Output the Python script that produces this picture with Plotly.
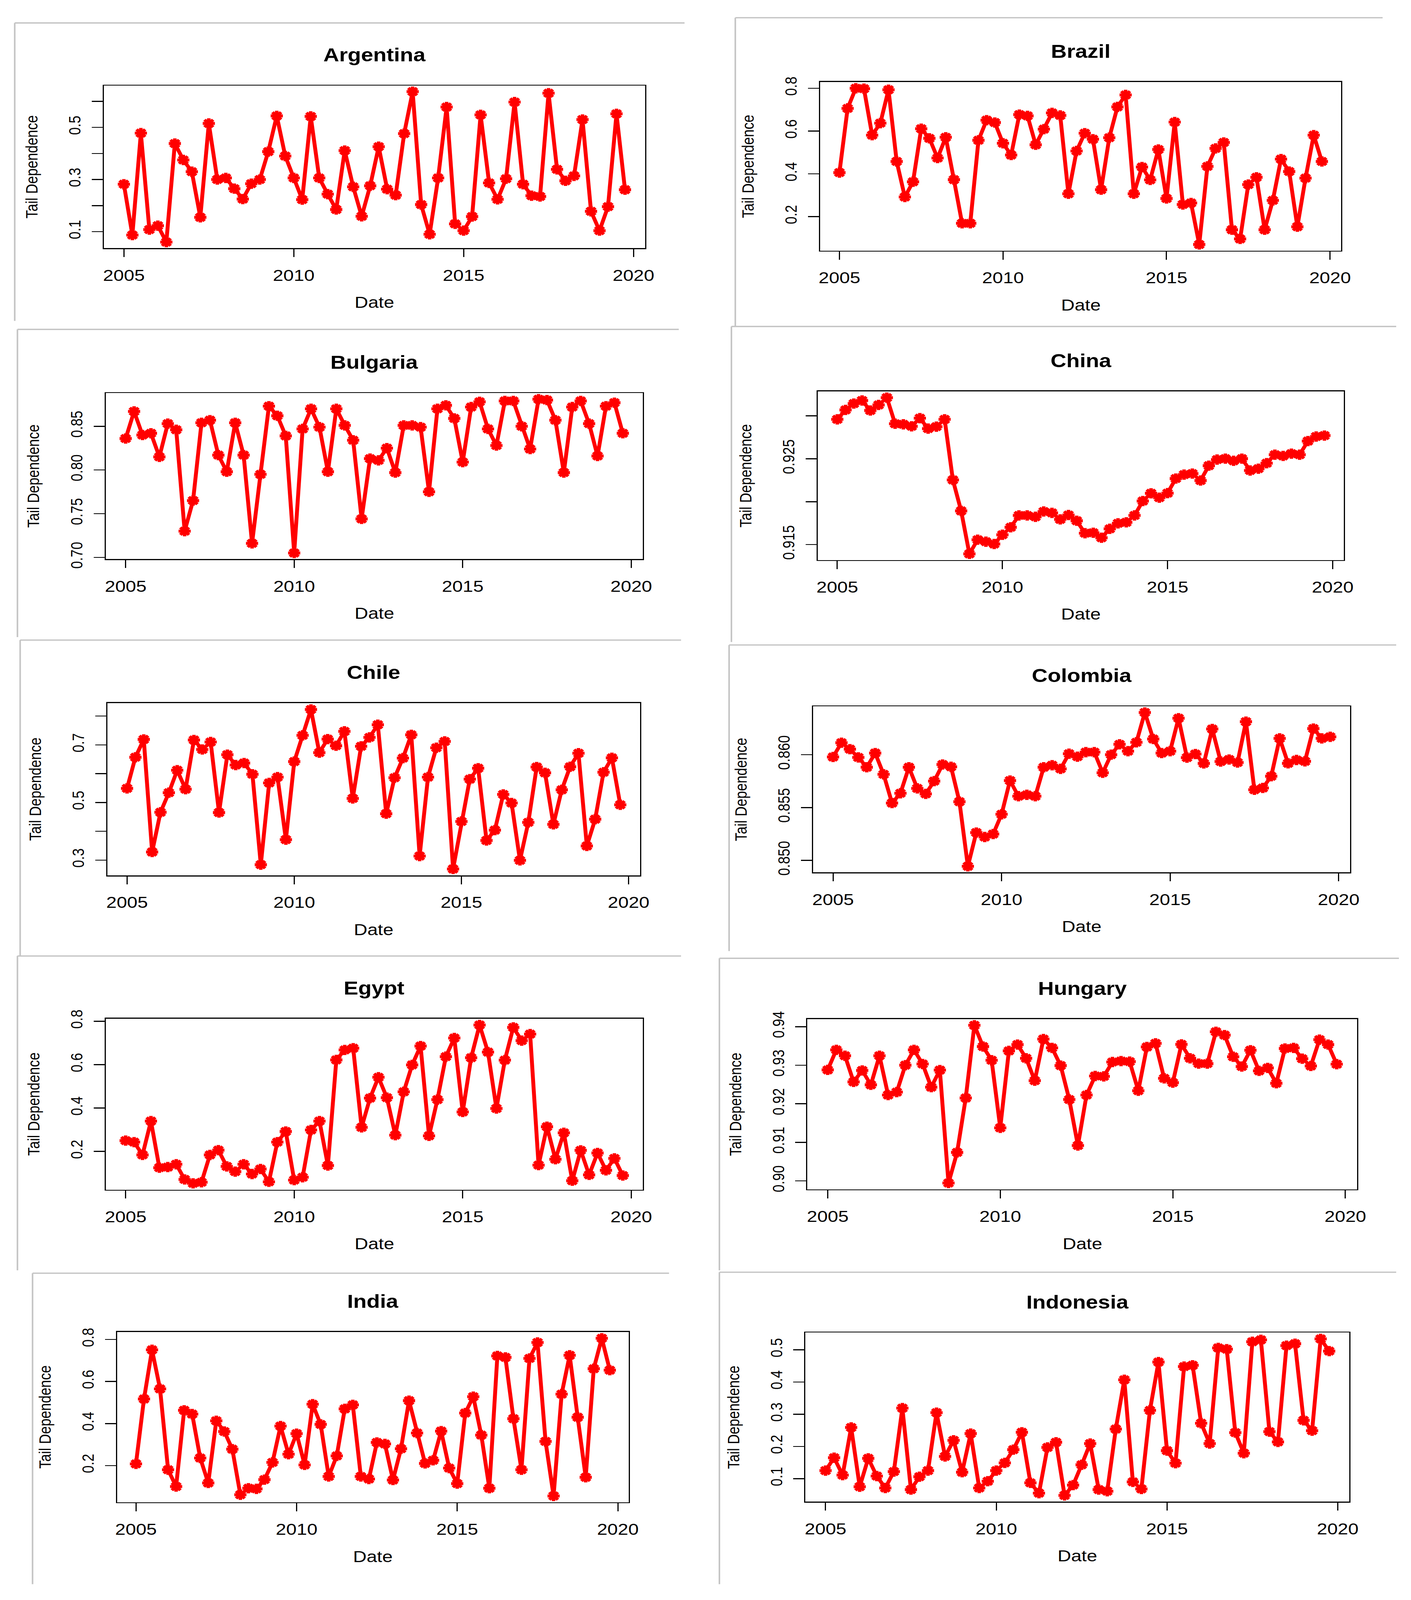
import plotly.graph_objects as go

# Quarterly observations, 2005 Q1 .. 2019 Q4
quarters = [2005 + q / 4 for q in range(60)]

countries = ["Argentina", "Brazil", "Bulgaria", "China", "Chile",
             "Colombia", "Egypt", "Hungary", "India", "Indonesia"]

argentina = [0.282, 0.087, 0.478, 0.108, 0.123, 0.060, 0.438, 0.375, 0.330, 0.155,
             0.515, 0.300, 0.306, 0.265, 0.225, 0.284, 0.300, 0.407, 0.544, 0.390,
             0.306, 0.223, 0.542, 0.306, 0.244, 0.185, 0.411, 0.272, 0.159, 0.276,
             0.426, 0.263, 0.240, 0.476, 0.637, 0.204, 0.090, 0.306, 0.578, 0.130,
             0.104, 0.158, 0.548, 0.287, 0.224, 0.303, 0.597, 0.282, 0.238, 0.235,
             0.631, 0.339, 0.295, 0.314, 0.530, 0.178, 0.104, 0.196, 0.552, 0.261]
brazil = [0.406, 0.706, 0.800, 0.798, 0.581, 0.637, 0.793, 0.458, 0.292, 0.363,
          0.611, 0.566, 0.474, 0.571, 0.373, 0.169, 0.169, 0.557, 0.651, 0.640,
          0.543, 0.488, 0.677, 0.671, 0.536, 0.609, 0.685, 0.673, 0.307, 0.507,
          0.590, 0.562, 0.326, 0.569, 0.713, 0.769, 0.307, 0.432, 0.372, 0.514,
          0.285, 0.642, 0.257, 0.264, 0.070, 0.435, 0.519, 0.547, 0.139, 0.096,
          0.350, 0.384, 0.139, 0.276, 0.469, 0.411, 0.153, 0.380, 0.581, 0.458]
bulgaria = [0.836, 0.867, 0.840, 0.842, 0.815, 0.853, 0.846, 0.730, 0.765, 0.854,
            0.857, 0.817, 0.798, 0.854, 0.817, 0.716, 0.795, 0.873, 0.862, 0.839,
            0.705, 0.847, 0.870, 0.849, 0.798, 0.870, 0.851, 0.834, 0.744, 0.813,
            0.811, 0.825, 0.797, 0.851, 0.851, 0.849, 0.775, 0.870, 0.874, 0.859,
            0.809, 0.872, 0.878, 0.847, 0.828, 0.879, 0.879, 0.850, 0.824, 0.881,
            0.880, 0.857, 0.797, 0.872, 0.879, 0.853, 0.816, 0.873, 0.877, 0.842]
china = [0.92960, 0.93070, 0.93144, 0.93180, 0.93063, 0.93128, 0.93213, 0.92909,
         0.92902, 0.92879, 0.92974, 0.92852, 0.92875, 0.92960, 0.92254, 0.91893,
         0.91392, 0.91557, 0.91534, 0.91507, 0.91615, 0.91702, 0.91840, 0.91840,
         0.91824, 0.91886, 0.91870, 0.91794, 0.91845, 0.91778, 0.91633, 0.91638,
         0.91580, 0.91684, 0.91748, 0.91760, 0.91840, 0.92008, 0.92098, 0.92047,
         0.92100, 0.92270, 0.92316, 0.92328, 0.92247, 0.92420, 0.92491, 0.92502,
         0.92477, 0.92502, 0.92364, 0.92385, 0.92449, 0.92548, 0.92534, 0.92560,
         0.92548, 0.92707, 0.92760, 0.92771]
chile = [0.549, 0.657, 0.719, 0.328, 0.466, 0.534, 0.612, 0.546, 0.717, 0.684,
         0.710, 0.465, 0.666, 0.630, 0.637, 0.598, 0.284, 0.568, 0.588, 0.371,
         0.642, 0.733, 0.823, 0.673, 0.720, 0.697, 0.747, 0.514, 0.695, 0.726,
         0.770, 0.461, 0.586, 0.654, 0.735, 0.314, 0.588, 0.690, 0.712, 0.269,
         0.434, 0.581, 0.619, 0.368, 0.404, 0.528, 0.498, 0.299, 0.431, 0.623,
         0.603, 0.424, 0.544, 0.624, 0.671, 0.349, 0.442, 0.605, 0.655, 0.492]
colombia = [0.85978, 0.86113, 0.86052, 0.85974, 0.85881, 0.86015, 0.85814, 0.85542,
            0.85635, 0.85881, 0.85681, 0.85629, 0.85750, 0.85907, 0.85885, 0.85555,
            0.84944, 0.85263, 0.85221, 0.85249, 0.85436, 0.85755, 0.85607, 0.85620,
            0.85607, 0.85881, 0.85900, 0.85866, 0.86009, 0.85981, 0.86024, 0.86024,
            0.85829, 0.86000, 0.86098, 0.86033, 0.86117, 0.86399, 0.86148, 0.86015,
            0.86033, 0.86345, 0.85972, 0.86006, 0.85917, 0.86243, 0.85935, 0.85954,
            0.85926, 0.86312, 0.85668, 0.85685, 0.85796, 0.86154, 0.85918, 0.85950,
            0.85937, 0.86247, 0.86154, 0.86169]
egypt = [0.250, 0.243, 0.184, 0.340, 0.125, 0.128, 0.141, 0.071, 0.053, 0.058,
         0.184, 0.206, 0.131, 0.107, 0.141, 0.096, 0.119, 0.060, 0.243, 0.292,
         0.068, 0.081, 0.299, 0.340, 0.135, 0.622, 0.668, 0.676, 0.311, 0.446,
         0.542, 0.448, 0.275, 0.475, 0.599, 0.686, 0.272, 0.439, 0.637, 0.723,
         0.382, 0.632, 0.783, 0.658, 0.398, 0.621, 0.772, 0.711, 0.741, 0.137,
         0.314, 0.164, 0.286, 0.065, 0.205, 0.092, 0.193, 0.113, 0.168, 0.089]
hungary = [0.92879, 0.93399, 0.93246, 0.92568, 0.92864, 0.92492, 0.93246, 0.92227,
           0.92303, 0.93001, 0.93399, 0.93032, 0.92431, 0.92874, 0.89944, 0.90739,
           0.92150, 0.94036, 0.93485, 0.93129, 0.91376, 0.93373, 0.93536, 0.93180,
           0.92599, 0.93679, 0.93450, 0.92991, 0.92110, 0.90917, 0.92227, 0.92721,
           0.92711, 0.93083, 0.93108, 0.93093, 0.92339, 0.93475, 0.93567, 0.92660,
           0.92548, 0.93541, 0.93180, 0.93042, 0.93042, 0.93868, 0.93781, 0.93220,
           0.92966, 0.93389, 0.92854, 0.92930, 0.92532, 0.93434, 0.93450, 0.93169,
           0.92981, 0.93664, 0.93536, 0.93027]
india = [0.208, 0.517, 0.751, 0.565, 0.180, 0.100, 0.463, 0.445, 0.236, 0.117,
         0.413, 0.362, 0.278, 0.061, 0.092, 0.089, 0.133, 0.215, 0.388, 0.254,
         0.352, 0.203, 0.492, 0.396, 0.148, 0.246, 0.470, 0.489, 0.148, 0.136,
         0.310, 0.303, 0.131, 0.280, 0.509, 0.355, 0.210, 0.225, 0.364, 0.188,
         0.114, 0.450, 0.528, 0.345, 0.092, 0.722, 0.715, 0.423, 0.180, 0.710,
         0.786, 0.315, 0.055, 0.540, 0.725, 0.430, 0.144, 0.661, 0.806, 0.654]
indonesia = [0.125, 0.165, 0.111, 0.259, 0.075, 0.163, 0.108, 0.071, 0.122, 0.319,
             0.066, 0.106, 0.125, 0.305, 0.169, 0.219, 0.120, 0.240, 0.071, 0.092,
             0.125, 0.149, 0.190, 0.244, 0.087, 0.055, 0.197, 0.213, 0.048, 0.080,
             0.143, 0.209, 0.066, 0.061, 0.254, 0.407, 0.090, 0.068, 0.312, 0.462,
             0.187, 0.148, 0.448, 0.452, 0.272, 0.209, 0.506, 0.502, 0.243, 0.179,
             0.525, 0.531, 0.246, 0.214, 0.513, 0.519, 0.281, 0.249, 0.534, 0.496]

series = [argentina, brazil, bulgaria, china, chile,
          colombia, egypt, hungary, india, indonesia]

# y tick positions and the labels R kept (blank = label dropped for overlap)
ytick_vals = [
    [0.1, 0.2, 0.3, 0.4, 0.5, 0.6],
    [0.2, 0.4, 0.6, 0.8],
    [0.70, 0.75, 0.80, 0.85],
    [0.915, 0.920, 0.925, 0.930],
    [0.3, 0.4, 0.5, 0.6, 0.7, 0.8],
    [0.850, 0.855, 0.860],
    [0.2, 0.4, 0.6, 0.8],
    [0.90, 0.91, 0.92, 0.93, 0.94],
    [0.2, 0.4, 0.6, 0.8],
    [0.1, 0.2, 0.3, 0.4, 0.5],
]
ytick_text = [
    ["0.1", "", "0.3", "", "0.5", ""],
    ["0.2", "0.4", "0.6", "0.8"],
    ["0.70", "0.75", "0.80", "0.85"],
    ["0.915", "", "0.925", ""],
    ["0.3", "", "0.5", "", "0.7", ""],
    ["0.850", "0.855", "0.860"],
    ["0.2", "0.4", "0.6", "0.8"],
    ["0.90", "0.91", "0.92", "0.93", "0.94"],
    ["0.2", "0.4", "0.6", "0.8"],
    ["0.1", "0.2", "0.3", "0.4", "0.5"],
]
xtick_vals = [2005, 2010, 2015, 2020]

W, H = 3613, 4846
FONT = "Liberation Sans, Arial, sans-serif"

# plot boxes in pixels: x0, x1, y0 (top), y1 (bottom)
boxes = [
    (264, 1661, 235, 733), (2113, 3458, 224, 741),
    (269, 1655, 1177, 1686), (2107, 3465, 1172, 1689),
    (273, 1648, 2127, 2655), (2095, 3481, 2137, 2646),
    (269, 1655, 3094, 3618), (2080, 3499, 3095, 3617),
    (298, 1619, 4054, 4576), (2075, 3479, 4056, 4574),
]
# screenshot frames: left x, top y, right x, bottom y
frames = [
    (34, 43, 1763, 956), (1894, 27, 3565, 972),
    (41, 982, 1748, 1925), (1884, 973, 3600, 1940),
    (48, 1934, 1754, 2902), (1878, 1949, 3600, 2887),
    (41, 2902, 1754, 3865), (1853, 2909, 3607, 3865),
    (80, 3874, 1723, 4827), (1853, 3871, 3600, 4827),
]


def px(x):
    return x / W


def py(y):
    return 1 - y / H


fig = go.Figure()
annotations = []
shapes = []
layout = {}

for i, (name, vals) in enumerate(zip(countries, series)):
    n = "" if i == 0 else str(i + 1)
    x0, x1, y0, y1 = boxes[i]

    fig.add_trace(go.Scatter(
        x=quarters, y=vals, mode="lines+markers",
        xaxis="x" + n, yaxis="y" + n,
        line=dict(color="#ff0000", width=10),
        marker=dict(symbol="asterisk-open", size=26, color="#ff0000",
                    line=dict(width=9, color="#ff0000")),
        showlegend=False, hoverinfo="x+y",
    ))

    lo, hi = min(vals), max(vals)
    pad = 0.04 * (hi - lo)
    xpad = 0.04 * (quarters[-1] - quarters[0])

    layout["xaxis" + n] = dict(
        domain=[px(x0), px(x1)], anchor="y" + n,
        range=[quarters[0] - xpad, quarters[-1] + xpad],
        tickvals=xtick_vals, ticks="outside", ticklen=24, tickwidth=3,
        tickcolor="black", showline=True, linecolor="black", linewidth=3,
        mirror=True, showgrid=False, zeroline=False,
        tickfont=dict(family=FONT, size=48, color="black"),
        ticklabelstandoff=14,
    )
    layout["yaxis" + n] = dict(
        domain=[py(y1), py(y0)], anchor="x" + n,
        range=[lo - pad, hi + pad],
        tickvals=ytick_vals[i], ticktext=ytick_text[i], tickangle=-90,
        ticks="outside", ticklen=28, tickwidth=3, tickcolor="black",
        showline=True, linecolor="black", linewidth=3, mirror=True,
        showgrid=False, zeroline=False,
        tickfont=dict(family=FONT, size=42, color="black"),
        ticklabelstandoff=12,
    )

    xc = (x0 + x1) / 2
    annotations.append(dict(
        text="<b>" + name + "</b>", x=px(xc), y=py(y0 - 94),
        xref="paper", yref="paper", showarrow=False,
        font=dict(family=FONT, size=56, color="black"),
        xanchor="center", yanchor="middle",
    ))
    annotations.append(dict(
        text="Date", x=px(xc), y=py(y1 + 166),
        xref="paper", yref="paper", showarrow=False,
        font=dict(family=FONT, size=48, color="black"),
        xanchor="center", yanchor="middle",
    ))
    annotations.append(dict(
        text="Tail Dependence", x=px(x0 - 186), y=py((y0 + y1) / 2),
        xref="paper", yref="paper", showarrow=False, textangle=-90,
        font=dict(family=FONT, size=42, color="black"),
        xanchor="center", yanchor="middle",
    ))

    fl, ft, fr, fb = frames[i]
    for (ax, ay, bx, by) in [(fl, ft, fr, ft), (fl, ft, fl, fb)]:
        shapes.append(dict(
            type="line", xref="paper", yref="paper",
            x0=px(ax), y0=py(ay), x1=px(bx), y1=py(by),
            line=dict(color="#c4c4c4", width=4),
        ))

fig.update_layout(
    width=W, height=H,
    margin=dict(l=0, r=0, t=0, b=0),
    paper_bgcolor="white", plot_bgcolor="white",
    annotations=annotations, shapes=shapes,
    **layout,
)

# shrink the page to the visible window if it is smaller than the figure
fit_script = """
var gd = document.getElementById('{plot_id}');
document.body.style.margin = '0';
document.documentElement.style.overflow = 'hidden';
document.body.style.overflow = 'hidden';
var sx = Math.min(1, window.innerWidth / %d);
var sy = Math.min(1, window.innerHeight / %d);
var box = gd.parentElement;
box.style.transformOrigin = '0 0';
box.style.transform = 'scale(' + sx + ',' + sy + ')';
""" % (W, H)

fig.write_html("out.html", post_script=fit_script,
               config={"displayModeBar": False})
